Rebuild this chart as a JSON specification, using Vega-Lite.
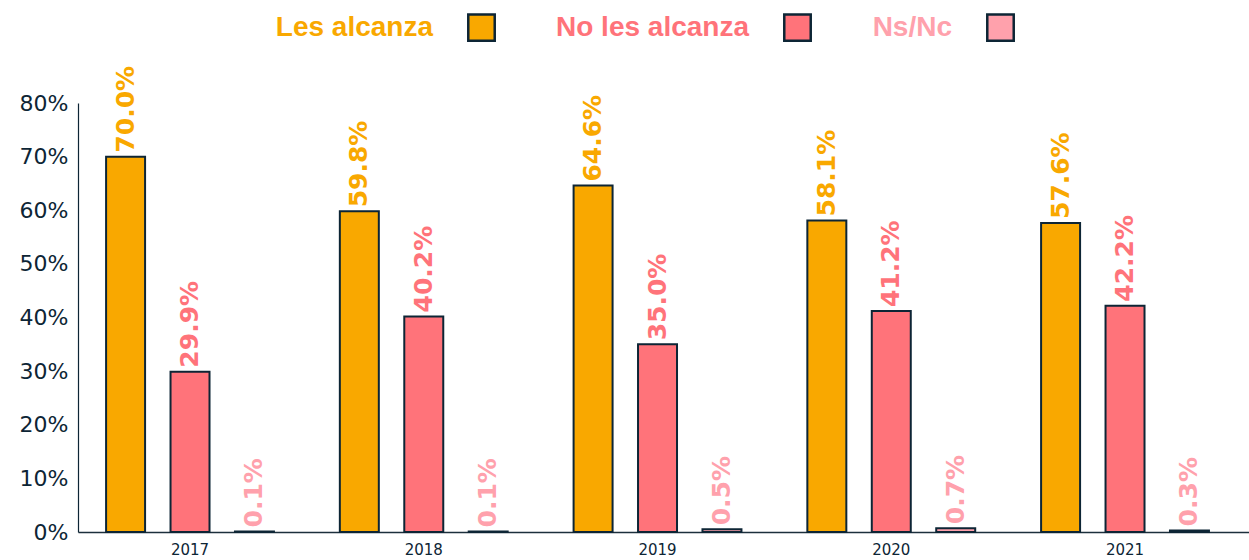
{
  "$schema": "https://vega.github.io/schema/vega-lite/v6.json",
  "width": 1171,
  "height": 429,
  "autosize": {"type": "none"},
  "padding": {"left": 78, "top": 103, "right": 0, "bottom": 28},
  "background": "white",
  "config": {"view": {"stroke": null}},
  "data": {
    "values": [
      {"year": "2017", "group": "Les alcanza", "value": 0.700},
      {"year": "2017", "group": "No les alcanza", "value": 0.299},
      {"year": "2017", "group": "Ns/Nc", "value": 0.001},
      {"year": "2018", "group": "Les alcanza", "value": 0.598},
      {"year": "2018", "group": "No les alcanza", "value": 0.402},
      {"year": "2018", "group": "Ns/Nc", "value": 0.001},
      {"year": "2019", "group": "Les alcanza", "value": 0.646},
      {"year": "2019", "group": "No les alcanza", "value": 0.350},
      {"year": "2019", "group": "Ns/Nc", "value": 0.005},
      {"year": "2020", "group": "Les alcanza", "value": 0.581},
      {"year": "2020", "group": "No les alcanza", "value": 0.412},
      {"year": "2020", "group": "Ns/Nc", "value": 0.007},
      {"year": "2021", "group": "Les alcanza", "value": 0.576},
      {"year": "2021", "group": "No les alcanza", "value": 0.422},
      {"year": "2021", "group": "Ns/Nc", "value": 0.003}
    ]
  },
  "encoding": {
    "x": {
      "field": "year",
      "type": "nominal",
      "scale": {"paddingInner": 0.173, "paddingOuter": 0.0913, "align": 0.36},
      "axis": {
        "title": null,
        "ticks": false,
        "labelAngle": 0,
        "domainColor": "#1c2f3c",
        "domainWidth": 1.5,
        "labelFont": "DejaVu Sans",
        "labelFontSize": 15,
        "labelColor": "#0d2535",
        "labelPadding": 10
      }
    },
    "xOffset": {
      "field": "group",
      "type": "nominal",
      "sort": ["Les alcanza", "No les alcanza", "Ns/Nc"],
      "scale": {"paddingInner": 0.395, "paddingOuter": 0.1975}
    },
    "y": {
      "field": "value",
      "type": "quantitative",
      "scale": {"domain": [0, 0.8], "nice": false},
      "axis": {
        "title": null,
        "format": ".0%",
        "values": [0, 0.1, 0.2, 0.3, 0.4, 0.5, 0.6, 0.7, 0.8],
        "grid": false,
        "ticks": false,
        "domainColor": "#0d2535",
        "domainWidth": 1.2,
        "labelFont": "DejaVu Sans",
        "labelFontSize": 22,
        "labelColor": "#0d2535",
        "labelPadding": 10
      }
    }
  },
  "layer": [
    {
      "mark": {"type": "bar", "stroke": "#0d2535", "strokeWidth": 2},
      "encoding": {
        "color": {
          "field": "group",
          "type": "nominal",
          "scale": {
            "domain": ["Les alcanza", "No les alcanza", "Ns/Nc"],
            "range": ["#f9a800", "#ff737a", "#ffa1ac"]
          },
          "legend": {
            "title": null,
            "orient": "none",
            "legendX": 389,
            "legendY": -90,
            "direction": "horizontal",
            "symbolType": "square",
            "symbolSize": 700,
            "symbolStrokeColor": "#0d2535",
            "symbolStrokeWidth": 2.5,
            "symbolOpacity": 1,
            "labelFont": "Liberation Sans",
            "labelFontWeight": "bold",
            "labelFontSize": 28,
            "labelLimit": 400,
            "labelAlign": "right",
            "labelOffset": -63,
            "columnPadding": 56,
            "encode": {
              "labels": {
                "update": {
                  "fill": {"signal": "datum.value === 'Les alcanza' ? '#f9a800' : datum.value === 'No les alcanza' ? '#ff737a' : '#ffa1ac'"}
                }
              }
            }
          }
        }
      }
    },
    {
      "mark": {
        "type": "text",
        "angle": 270,
        "align": "left",
        "baseline": "middle",
        "dx": 4,
        "font": "DejaVu Sans",
        "fontWeight": "bold",
        "fontSize": 25
      },
      "encoding": {
        "text": {"field": "value", "type": "quantitative", "format": ".1%"},
        "color": {"field": "group", "type": "nominal", "legend": null}
      }
    }
  ]
}
